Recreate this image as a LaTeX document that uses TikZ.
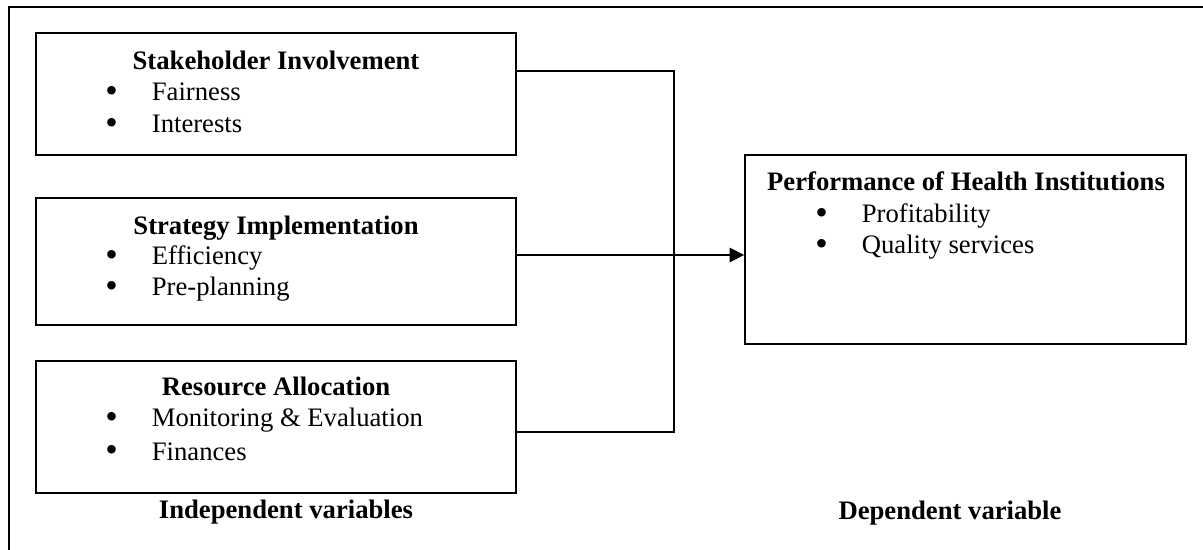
\documentclass[tikz,border=0pt]{standalone}
\usepackage{fontspec}
\setmainfont{Liberation Serif}
\usetikzlibrary{arrows.meta}

\tikzset{
  varbox/.style={draw, line width=0.8pt, inner sep=0pt},
  head/.style={font=\fontsize{12}{14}\selectfont\bfseries, anchor=base, inner sep=0pt},
  item/.style={anchor=base west, inner sep=0pt},
  link/.style={line width=0.6pt},
}
\newcommand{\bulletitem}[1]{\makebox[20.9pt][l]{\raisebox{-0.8pt}{\fontsize{16}{14}\selectfont\textbullet}}#1}

\begin{document}
\begin{tikzpicture}[x=0.45pt,y=-0.45pt,font=\fontsize{12}{14}\selectfont]
  \useasboundingbox (0,0) rectangle (1203,550);
  \draw[line width=0.9pt] (9,7) rectangle (1230,580);
  % boxes
  \node[varbox, minimum width=216pt, minimum height=54.9pt] (stake) at (276,94) {};
  \node[varbox, minimum width=216pt, minimum height=57.15pt] (strat) at (276,261.5) {};
  \node[varbox, minimum width=216pt, minimum height=59.4pt] (res) at (276,427) {};
  \node[varbox, minimum width=198.45pt, minimum height=85.05pt] (perf) at (965.5,249.5) {};
  % texts
  \node[head] (stakehead) at (276,69.5) {Stakeholder Involvement};
  \node[item] (fair) at (105,100.7) {\bulletitem{Fairness}};
  \node[item] (inter) at (105,132.5) {\bulletitem{Interests}};
  \node[head] (strathead) at (276,235) {Strategy Implementation};
  \node[item] (eff) at (105,265) {\bulletitem{Efficiency}};
  \node[item] (preplan) at (105,296) {\bulletitem{Pre-planning}};
  \node[head] (reshead) at (276,396) {Resource Allocation};
  \node[item] (monit) at (105,427) {\bulletitem{Monitoring \& Evaluation}};
  \node[item] (fin) at (105,460) {\bulletitem{Finances}};
  \node[head] (perfhead) at (966,190.7) {Performance of Health Institutions};
  \node[item] (profit) at (815,222.7) {\bulletitem{Profitability}};
  \node[item] (quality) at (815,253.3) {\bulletitem{Quality services}};
  \node[head] (indep) at (286,518) {Independent variables};
  \node[head] (dep) at (950,519) {Dependent variable};
  % connectors
  \coordinate (jtop) at (674,71);
  \coordinate (jmid) at (674,255);
  \coordinate (jbot) at (674,432);
  \draw[link] (stake.east |- jtop) -- (jtop) -- (jbot) -- (res.east |- jbot);
  \draw[link, -{Triangle[length=6.5pt,width=6.5pt]}] (strat.east |- jmid) -- (perf.west |- jmid);
\end{tikzpicture}
\end{document}
